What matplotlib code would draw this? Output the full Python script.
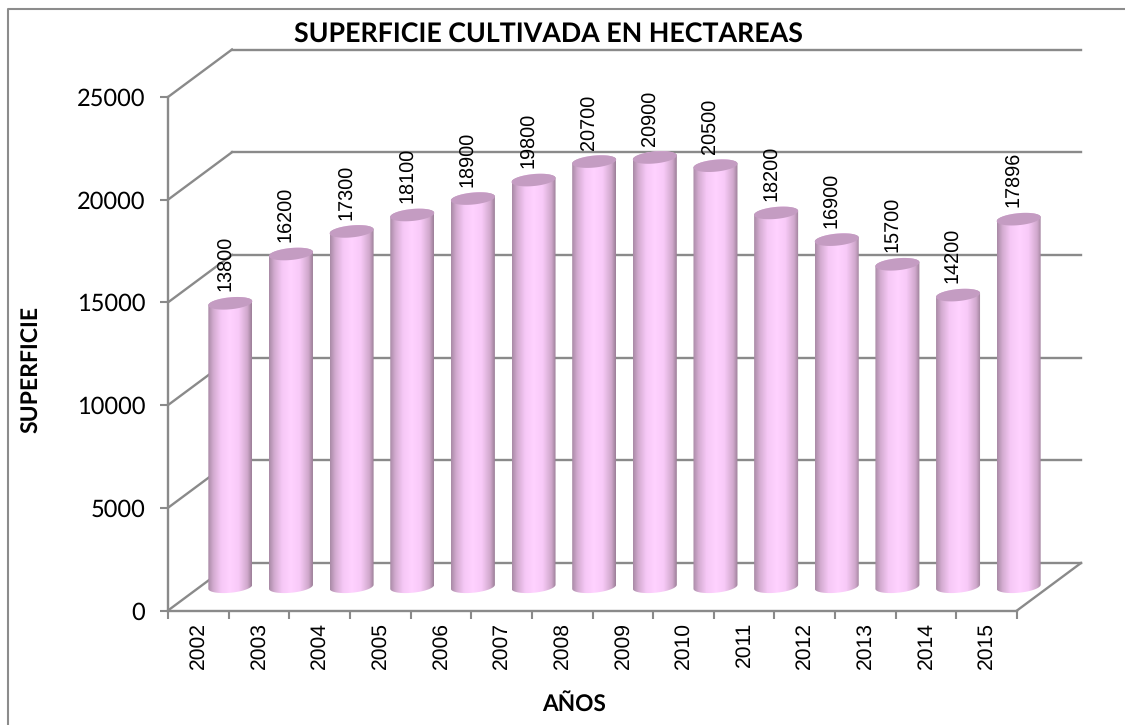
# grafico de superficie cultivada, cilindros con perspectiva falsa
import numpy as np
import matplotlib
matplotlib.use('Agg')
import matplotlib.pyplot as plt
from matplotlib.patches import Polygon
from matplotlib.colors import LinearSegmentedColormap

years = ['2002', '2003', '2004', '2005', '2006', '2007', '2008',
         '2009', '2010', '2011', '2012', '2013', '2014', '2015']
superficie = [13800, 16200, 17300, 18100, 18900, 19800, 20700,
              20900, 20500, 18200, 16900, 15700, 14200, 17896]
y_ticks = [0, 5000, 10000, 15000, 20000, 25000]

plt.rcParams['text.hinting'] = 'none'

W, H = 1125, 725
LEFT, RIGHT, TOP, BOTTOM = 168, 1017, 97, 610.5
GREY = '#8a8a8a'

fig = plt.figure(figsize=(W / 100, H / 100), dpi=100, facecolor='white')
ax = fig.add_axes([LEFT / W, 1 - BOTTOM / H, (RIGHT - LEFT) / W, (BOTTOM - TOP) / H])
ax.patch.set_visible(False)
for s in ax.spines.values():
    s.set_visible(False)

# profundidad de la caja, en unidades de datos
dx = 64 / ((RIGHT - LEFT) / len(years))
dy = 47.5 / ((BOTTOM - TOP) / 25000)
x0, x1 = -0.5, len(years) - 0.5

# paredes y rejilla
for v in y_ticks:
    ax.plot([x0 + dx, x1 + dx], [v + dy, v + dy], color=GREY, lw=1.7, zorder=1, clip_on=False)
    ax.plot([x0, x0 + dx], [v, v + dy], color=GREY, lw=1.7, zorder=1, clip_on=False)
ax.plot([x1, x1 + dx], [0, dy], color=GREY, lw=1.7, zorder=1, clip_on=False)
ax.plot([x0, x1], [0, 0], color=GREY, lw=1.7, zorder=1, clip_on=False)
ax.plot([x0, x0], [0, 25000], color=GREY, lw=1.7, zorder=1, clip_on=False)

# cilindros
cmap = LinearSegmentedColormap.from_list('cil', [(0, '#a98aa6'), (0.12, '#d3abd0'), (0.3, '#f6c8f6'),
                                                 (0.5, '#ffd2ff'), (0.7, '#f8caf8'), (0.9, '#d0a8cc'),
                                                 (1, '#9c7f98')])
grad = np.linspace(0, 1, 128).reshape(1, -1)
half = 22 / ((RIGHT - LEFT) / len(years))
rb = 6 / ((BOTTOM - TOP) / 25000)
tilt = 2 / ((BOTTOM - TOP) / 25000)
t = np.linspace(0, 2 * np.pi, 80)

for i, v in enumerate(superficie):
    cx = i + dx / 2
    base = dy / 2
    top = v + dy / 2
    ex = cx + half * np.cos(t)
    ey = rb * np.sin(t) + tilt * np.cos(t)
    lower = t > np.pi
    upper = t <= np.pi
    # contorno: media elipse inferior en la base y superior arriba
    low_idx = np.argsort(ex[lower])
    up_idx = np.argsort(ex[upper])[::-1]
    body_x = np.r_[ex[lower][low_idx], ex[upper][up_idx]]
    body_y = np.r_[base + ey[lower][low_idx], top + ey[upper][up_idx]]
    body = Polygon(np.c_[body_x, body_y], closed=True, transform=ax.transData, fc='none', ec='none')
    ax.add_patch(body)
    im = ax.imshow(grad, cmap=cmap, aspect='auto', vmin=0, vmax=1, zorder=3, interpolation='bilinear',
                   extent=[cx - half, cx + half, base - rb - tilt, top + rb + tilt])
    im.set_clip_box(fig.bbox)  # la ultima barra sale de los ejes
    im.set_clip_path(body)
    ax.add_patch(Polygon(np.c_[ex, top + ey], closed=True, fc='#c49cc2', ec='none', zorder=4, clip_on=False))
    ax.annotate(str(v), (cx, top), xytext=(-3.2, 8.5), textcoords='offset points', rotation=90,
                ha='center', va='bottom', fontsize=14.3, family='Liberation Sans', color='black',
                zorder=5, annotation_clip=False)

ax.set_xlim(x0, x1)
ax.set_ylim(0, 25000)

ax.set_yticks(y_ticks)
ax.set_yticklabels([str(v) for v in y_ticks], fontsize=17, family='Lato')
ax.tick_params(axis='y', length=6, width=1.5, color=GREY, pad=10.5)

ax.set_xticks(np.arange(x0, x1 + 1))
ax.set_xticklabels([])
ax.set_xticks(np.arange(len(years)), minor=True)
ax.set_xticklabels(years, minor=True, rotation=90, fontsize=15.2, family='Liberation Sans')
ax.tick_params(axis='x', which='major', length=6, width=1.5, color=GREY)
ax.tick_params(axis='x', which='minor', length=0, pad=8)

fig.text(548.5 / W, 1 - 34 / H, 'SUPERFICIE CULTIVADA EN HECTAREAS', ha='center', va='center',
         fontsize=19.3, fontweight='bold', family='Lato')
fig.text(32 / W, 1 - 369 / H, 'SUPERFICIE', rotation=90, ha='center', va='center',
         fontsize=16.6, fontweight='bold', family='Lato')
fig.text(574 / W, 1 - 704 / H, 'AÑOS', ha='center', va='center',
         fontsize=16.3, fontweight='bold', family='Lato')

# marco exterior
fig.add_artist(plt.Line2D([8 / W, 8 / W, 1], [0, 1 - 8.5 / H, 1 - 8.5 / H], color='#8c8c8c', lw=1.5))

fig.savefig('out.png', dpi=100, facecolor='white')
plt.close(fig)
